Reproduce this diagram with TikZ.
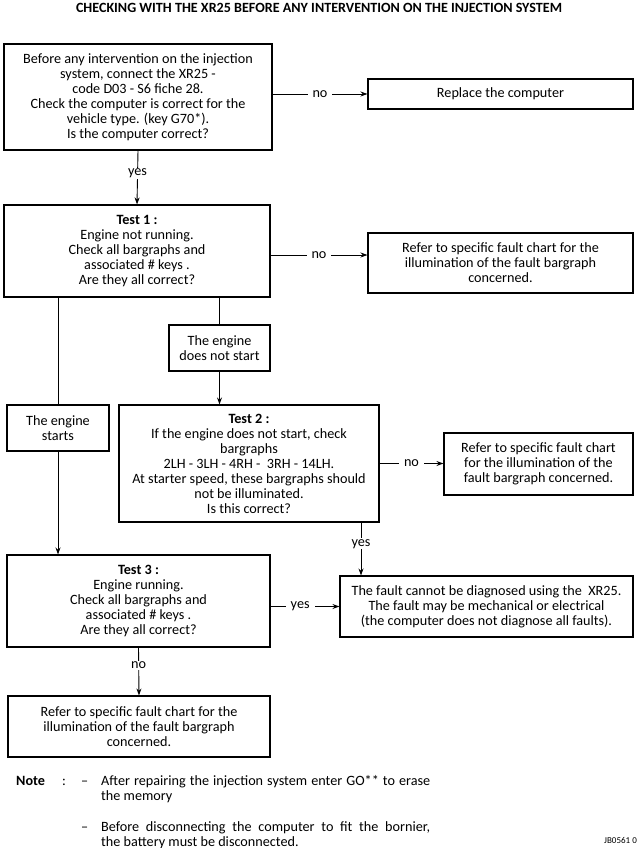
\documentclass[tikz,border=0pt]{standalone}
\usepackage{fontspec}
\setmainfont{Carlito}
\usetikzlibrary{arrows.meta,calc}
\begin{document}
\begin{tikzpicture}[x=1pt,y=-1pt,
  every node/.style={font=\fontsize{14.2}{15}\selectfont},
  box/.style={draw,line width=1.1pt,align=center,inner sep=0pt,minimum width=#1},
  conn/.style={line width=0.9pt},
  arr/.style={conn,-{Stealth[length=7pt,width=5pt]}},
  lab/.style={fill=white,inner xsep=5pt,inner ysep=1pt}]
\useasboundingbox (0,0) rectangle (643,848);
\node[font=\fontsize{14.1}{15}\selectfont\bfseries] (title) at (319,8) {CHECKING WITH THE XR25 BEFORE ANY INTERVENTION ON THE INJECTION SYSTEM};
\node[box=268pt,minimum height=106pt] (box1) at (138,97) {Before any intervention on the injection\\system, connect the XR25 -\\code D03 - S6 fiche 28.\\Check the computer is correct for the\\vehicle type. (key G70*).\\Is the computer correct?};
\node[box=265pt,minimum height=30pt] (replace) at (500.5,94) {Replace the computer};
\node[box=266pt,minimum height=92pt] (test1) at (137,251) {\textbf{Test 1 :}\\Engine not running.\\Check all bargraphs and\\associated \# keys .\\Are they all correct?};
\node[box=265pt,minimum height=60pt] (refer1) at (500.5,263) {Refer to specific fault chart for the\\illumination of the fault bargraph\\concerned.};
\node[box=101pt,minimum height=46pt] (notstart) at (219.5,348) {The engine\\does not start};
\node[box=102pt,minimum height=46pt] (starts) at (58,428) {The engine\\starts};
\node[box=260pt,minimum height=117pt] (test2) at (249,463.5) {\textbf{Test 2 :}\\If the engine does not start, check\\bargraphs\\2LH - 3LH - 4RH -\ \ 3RH - 14LH.\\At starter speed, these bargraphs should\\not be illuminated.\\Is this correct?};
\node[box=189pt,minimum height=62pt] (refer2) at (538.5,464) {Refer to specific fault chart\\for the illumination of the\\fault bargraph concerned.};
\node[box=263pt,minimum height=92pt] (test3) at (138.5,601) {\textbf{Test 3 :}\\Engine running.\\Check all bargraphs and\\associated \# keys .\\Are they all correct?};
\node[box=293pt,minimum height=61pt] (fault) at (486.5,606.5) {The fault cannot be diagnosed using the\ \ XR25.\\The fault may be mechanical or electrical\\(the computer does not diagnose all faults).};
\node[box=262pt,minimum height=61pt] (bottom) at (139,726.5) {Refer to specific fault chart for the\\illumination of the fault bargraph\\concerned.};
% connectors
\draw[arr] (box1.east |- replace) -- node[lab]{no} (replace.west);
\draw[arr] (box1.south) -- node[lab,pos=0.42]{yes} (test1.north);
\draw[arr] ([yshift=-4pt]test1.east) -- node[lab]{no} ([yshift=-4pt]test1.east -| refer1.west);
\draw[conn] (starts.north |- test1.south) -- (starts.north);
\draw[arr] (starts.south) -- (starts.south |- test3.north);
\draw[conn] (notstart.north |- test1.south) -- (notstart.north);
\draw[arr] (notstart.south) -- (notstart.south |- test2.north);
\draw[arr] (test2.east) -- node[lab]{no} (test2.east -| refer2.west);
\draw[arr] ([xshift=112pt]test2.south) -- node[lab,pos=0.4]{yes} ([xshift=112pt]test2.south |- fault.north);
\draw[arr] (test3.east |- fault) -- node[lab,pos=0.43]{yes} (fault.west);
\draw[arr] (test3.south) -- node[lab,pos=0.37]{no} (bottom.north);
% notes
\node[anchor=base west,inner sep=0pt,font=\fontsize{14.2}{15}\selectfont\bfseries] (note) at (16,785) {Note};
\node[anchor=base west,inner sep=0pt] (colon) at (62,785) {:};
\node[anchor=base west,inner sep=0pt] (dash1) at (81,785) {--};
\node[anchor=base west,inner sep=0pt] (dash2) at (81,831) {--};
\node[anchor=north west,inner sep=0pt,text width=329pt,align=justify] (n1) at (101,775) {After repairing the injection system enter GO** to erase\linebreak the memory};
\node[anchor=north west,inner sep=0pt,text width=329pt,align=justify] (n2) at (101,821) {Before disconnecting the computer to fit the bornier,\linebreak the battery must be disconnected.};
\node[anchor=base east,inner sep=0pt,font=\fontsize{9}{10}\selectfont] (ref) at (637,843) {JB0561 0};
\end{tikzpicture}
\end{document}
